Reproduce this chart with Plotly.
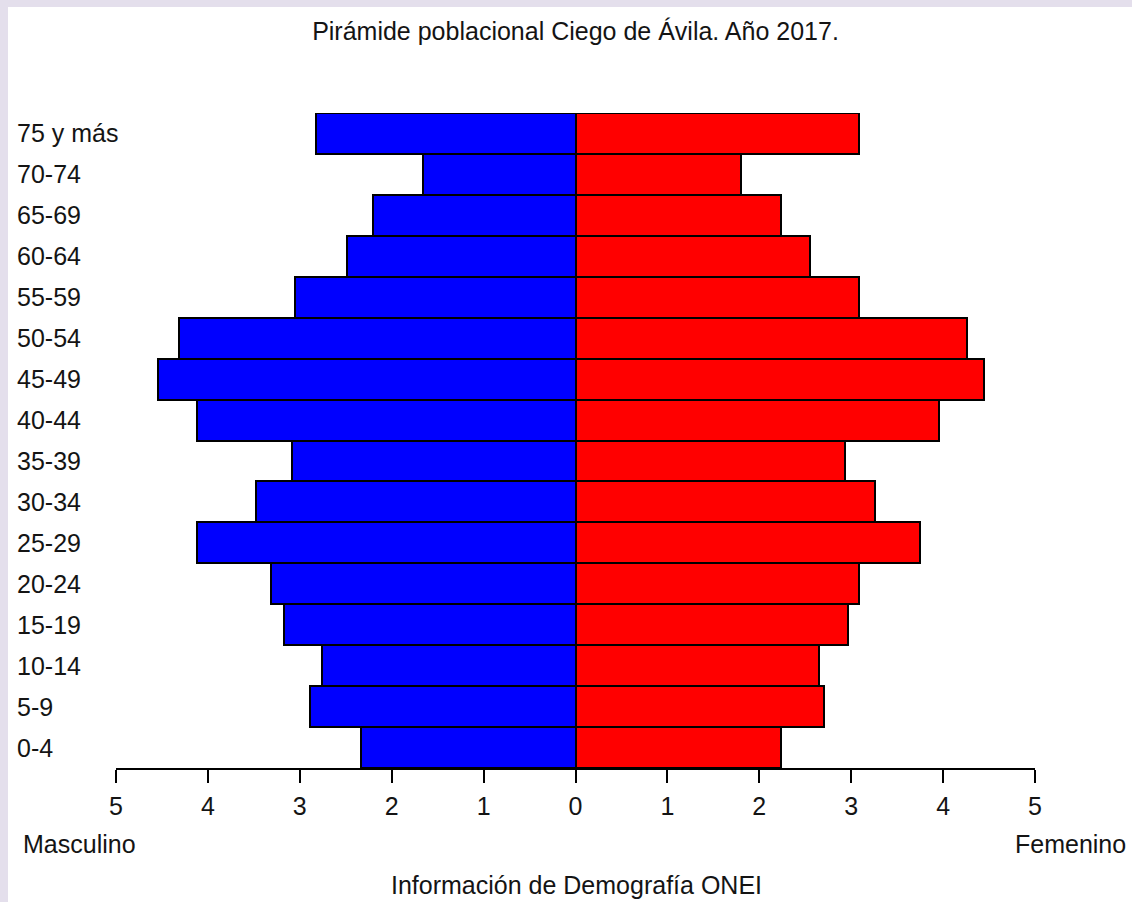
import plotly.graph_objects as go

ages = ["0-4", "5-9", "10-14", "15-19", "20-24", "25-29", "30-34", "35-39",
        "40-44", "45-49", "50-54", "55-59", "60-64", "65-69", "70-74", "75 y más"]
masculino = [2.33, 2.89, 2.76, 3.17, 3.31, 4.12, 3.48, 3.08,
             4.12, 4.54, 4.31, 3.05, 2.49, 2.20, 1.66, 2.82]
femenino = [2.24, 2.70, 2.65, 2.96, 3.08, 3.75, 3.26, 2.93,
            3.96, 4.44, 4.26, 3.09, 2.55, 2.24, 1.80, 3.09]
tick_vals = [-5, -4, -3, -2, -1, 0, 1, 2, 3, 4, 5]
tick_text = ["5", "4", "3", "2", "1", "0", "1", "2", "3", "4", "5"]

W, H = 1132, 902
L, R, T, B = 116, 97, 113, 134
PW, PH = W - L - R, H - T - B


def px(xp):
    return (xp - L) / PW


def py(yp):
    return (H - B - yp) / PH


FONT = "Liberation Sans, Arial, sans-serif"
TXT = "#141414"

fig = go.Figure()
fig.add_trace(go.Bar(
    y=ages, x=[-v for v in masculino], orientation="h", name="Masculino",
    marker=dict(color="#0000ff", line=dict(color="black", width=2)),
    showlegend=False, hoverinfo="skip"))
fig.add_trace(go.Bar(
    y=ages, x=femenino, orientation="h", name="Femenino",
    marker=dict(color="#ff0000", line=dict(color="black", width=2)),
    showlegend=False, hoverinfo="skip"))

annotations = []
for a in ages:
    annotations.append(dict(text=a, xref="paper", yref="y", x=px(15), y=a,
                            xanchor="left", yanchor="middle", showarrow=False,
                            font=dict(family=FONT, size=25, color=TXT)))
annotations.append(dict(text="Masculino", xref="paper", yref="paper", x=px(21), y=py(844),
                        xanchor="left", yanchor="middle", showarrow=False,
                        font=dict(family=FONT, size=25, color=TXT)))
annotations.append(dict(text="Femenino", xref="paper", yref="paper", x=px(1128), y=py(844),
                        xanchor="right", yanchor="middle", showarrow=False,
                        font=dict(family=FONT, size=25, color=TXT)))
annotations.append(dict(text="Información de Demografía ONEI", xref="paper", yref="paper",
                        x=px(576), y=py(885), xanchor="center", yanchor="middle",
                        showarrow=False, font=dict(family=FONT, size=25, color=TXT)))

shapes = [
    dict(type="rect", xref="paper", yref="paper", x0=px(0), x1=px(W), y0=py(7), y1=py(0),
         fillcolor="#e4dfec", line=dict(width=0), layer="above"),
    dict(type="rect", xref="paper", yref="paper", x0=px(0), x1=px(8), y0=py(H), y1=py(0),
         fillcolor="#e4dfec", line=dict(width=0), layer="above"),
]

fig.update_layout(
    width=W, height=H,
    margin=dict(l=L, r=R, t=T, b=B, pad=0),
    paper_bgcolor="white", plot_bgcolor="white",
    barmode="relative", bargap=0,
    title=dict(text="Pirámide poblacional Ciego de Ávila. Año 2017.",
               x=0.5, xref="paper", y=1 - 31 / H, yref="container",
               xanchor="center", yanchor="middle",
               font=dict(family=FONT, size=25, color=TXT)),
    xaxis=dict(range=[-5, 5], tickvals=tick_vals, ticktext=tick_text,
               ticks="outside", ticklen=13, tickwidth=2, tickcolor="black",
               showline=True, linecolor="black", linewidth=2,
               showgrid=False, zeroline=True, zerolinecolor="black", zerolinewidth=3,
               layer="above traces", fixedrange=True, ticklabelstandoff=2,
               tickfont=dict(family=FONT, size=25, color=TXT)),
    yaxis=dict(range=[-0.5, 15.5], showticklabels=False, showgrid=False,
               zeroline=False, showline=False, ticks="", fixedrange=True),
    annotations=annotations,
    shapes=shapes,
)

fig.write_html("out.html", config={"displayModeBar": False},
               post_script="document.body.style.margin='0';document.body.style.overflow='hidden';")
